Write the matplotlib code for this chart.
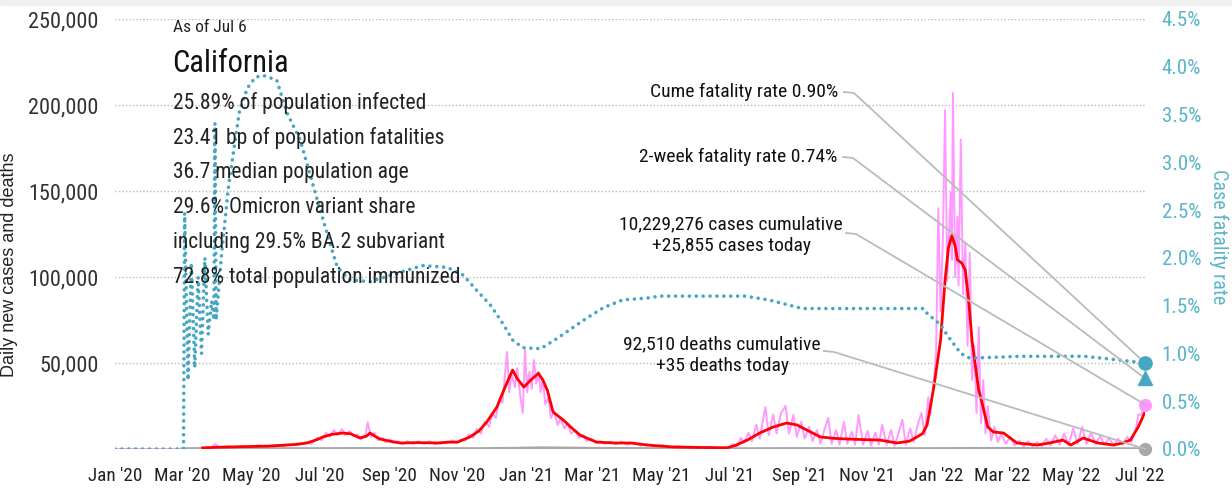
import os
import matplotlib
matplotlib.use("Agg")
import matplotlib.pyplot as plt
import matplotlib.dates as mdates
import matplotlib.ticker as mticker
from matplotlib import font_manager
from matplotlib.font_manager import FontProperties
from matplotlib.lines import Line2D
from matplotlib.patches import Rectangle
import pandas as pd

# ---- data, days counted from 2020-01-01 ----
start = pd.Timestamp("2020-01-01")

red_day = [78, 90, 110, 138, 160, 171, 180, 185, 193, 203, 210, 218, 224, 227, 232, 236,
           245, 254, 270, 289, 296, 305, 316, 324, 331, 340, 346, 352, 354, 358, 364, 370,
           377, 381, 385, 390, 399, 407, 414, 422, 429, 445, 459, 474, 497, 520, 545, 552,
           563, 574, 586, 598, 607, 616, 628, 640, 652, 665, 681, 696, 707, 714, 719, 723,
           729, 735, 739, 742, 745, 748, 750, 754, 757, 760, 763, 769, 772, 777, 782, 791,
           803, 821, 832, 844, 851, 862, 875, 889, 897, 904, 911, 917]
red_val = [600, 1000, 1300, 1700, 2600, 3500, 5500, 7000, 8500, 9300, 8800, 6400, 7500, 9300, 7200, 5800,
           4500, 3500, 3700, 3500, 4000, 4000, 7000, 10500, 15700, 24400, 34000, 43000, 45900, 41000, 36000, 40000,
           44000, 40000, 34000, 21500, 16900, 12000, 8100, 5800, 4000, 3500, 3500, 2300, 1200, 900, 700, 2000,
           5200, 9300, 12800, 15100, 14000, 11000, 7000, 6200, 5800, 5500, 5200, 3500, 4500, 7000, 9000, 14000,
           36000, 63400, 98000, 117000, 124000, 118000, 110000, 108000, 104000, 86600, 63000, 34000, 26700, 12800, 9900, 9300,
           3500, 2300, 3500, 5200, 2300, 6400, 3500, 2300, 3500, 5200, 12800, 21500]

pink_day = [0, 61, 66, 72, 78, 82, 86, 89, 93, 100, 107, 114, 121, 128, 135, 142, 149, 156, 163,
            170, 175, 180, 184, 188, 191, 195, 198, 202, 205, 209, 212, 216, 219, 223, 225, 228,
            231, 234, 238, 241, 245, 248, 252, 256, 260, 265, 270, 275, 280, 285, 290, 295, 300,
            304, 308, 312, 315, 319, 322, 326, 329, 333, 336, 339, 342, 345, 349, 351, 353, 356,
            358, 361, 363, 365, 367, 369, 371, 373, 375, 377, 379, 381, 383, 386, 388, 391, 394,
            397, 400, 403, 406, 410, 413, 417, 420, 424, 428, 432, 436, 441, 446, 451, 456, 462,
            468, 474, 480, 487, 494, 501, 508, 515, 522, 529, 536, 543, 547, 550, 554, 557, 560,
            564, 567, 571, 574, 579, 582, 586, 589, 593, 597, 600, 604, 607, 611, 614, 618, 621,
            625, 628, 632, 635, 638, 642, 645, 649, 652, 656, 659, 662, 666, 670, 673, 677, 680,
            683, 687, 691, 694, 697, 701, 704, 708, 711, 715, 718, 721, 724, 726, 729, 731, 733,
            735, 737, 739, 741, 744, 745, 746, 748, 750, 751, 753, 755, 757, 759, 761, 763, 765,
            767, 769, 771, 773, 775, 777, 780, 783, 786, 789, 793, 797, 801, 805, 809, 813, 817,
            821, 825, 829, 833, 837, 841, 845, 849, 853, 857, 861, 865, 869, 873, 877, 881, 885,
            889, 893, 897, 901, 905, 909, 911, 914, 917]
pink_val = [0, 0, 200, 500, 800, 1200, 900, 2900, 900, 1600, 1000, 1800, 1100, 2200, 1300, 2400, 1500, 2900, 2200,
            4000, 3000, 6500, 5000, 9500, 7000, 11000, 8000, 11500, 8000, 10500, 7500, 8500, 5500, 8000, 15500, 7000,
            9500, 5000, 6500, 4000, 5500, 3500, 4500, 2800, 4500, 3000, 4500, 3000, 4500, 2800, 4200, 3200, 5000,
            3500, 5500, 5000, 8500, 6500, 11500, 9000, 16000, 13000, 21000, 18000, 29000, 27000, 56400, 33000, 44000, 36000,
            47000, 30000, 21000, 57500, 33000, 45000, 35000, 51700, 38000, 45000, 33000, 41000, 26000, 30000, 18000, 22000, 14000,
            18000, 12000, 15000, 9000, 11000, 6500, 8000, 4500, 6000, 3500, 4500, 3000, 4200, 2800, 4200, 2500, 3800,
            2000, 2800, 1500, 2200, 1000, 1600, 800, 1300, 600, 1200, 500, 1000, 300, 3000, 1200, 6500, 3500,
            9500, 4500, 14000, 6000, 24400, 8000, 20000, 9000, 21000, 25000, 9000, 19800, 7000, 16000, 6000, 13000, 4500,
            11000, 3000, 12000, 18000, 3000, 11000, 2500, 15700, 3000, 10000, 2500, 19800, 2500, 10500, 2000, 9500, 2500,
            14000, 2500, 11000, 1800, 8000, 17000, 2500, 12000, 4000, 15000, 21000, 8000, 30000, 20000, 40000, 56000, 140000,
            80000, 120000, 197000, 98000, 149000, 110000, 207000, 100000, 135000, 95000, 180000, 90000, 120000, 60000, 114000, 40000, 60000,
            21000, 71000, 15000, 40000, 9000, 25000, 5000, 12800, 4000, 9000, 3000, 7000, 2000, 5000, 1500, 4500, 1500,
            4000, 1500, 6000, 2000, 8000, 2500, 9000, 2500, 12000, 3000, 12800, 3000, 9300, 3000, 7500, 2500, 6500,
            2000, 6000, 2500, 7000, 4000, 12000, 20000, 20000, 25855]

death_day = [60, 90, 120, 180, 210, 240, 300, 330, 360, 380, 400, 430, 500, 560, 600, 650, 700, 730, 760, 790, 820, 880, 917]
death_val = [0, 50, 80, 70, 140, 130, 50, 80, 300, 550, 400, 200, 50, 20, 100, 100, 60, 80, 150, 200, 80, 20, 35]

cfr_day = [0, 61, 62, 65, 68, 71, 74, 77, 80, 83, 86, 88, 89, 90, 95, 101, 107, 111,
           118, 125, 132, 144, 153, 165, 180, 194, 198, 209, 227, 251, 274, 296, 310, 322, 334, 346,
           354, 363, 379, 394, 405, 420, 435, 452, 474, 485, 561, 582, 612, 720, 723, 735, 741, 753,
           761, 805, 863, 895, 917]
cfr_pct = [0, 0, 2.47, 0.72, 1.95, 0.85, 1.8, 1.0, 2.0, 1.2, 1.55, 1.35, 3.41, 1.35, 2.05, 2.74, 3.23, 3.55,
           3.78, 3.89, 3.91, 3.86, 3.52, 3.23, 2.61, 2.05, 1.9, 1.77, 1.75, 1.84, 1.92, 1.90, 1.82, 1.66, 1.51, 1.30,
           1.14, 1.06, 1.05, 1.16, 1.25, 1.37, 1.48, 1.56, 1.58, 1.60, 1.60, 1.56, 1.47, 1.47, 1.42, 1.30, 1.19, 1.00,
           0.95, 0.97, 0.97, 0.93, 0.90]

last_day = 917
cume_cfr = 0.90
twoweek_cfr = 0.74
cases_today = 25855
deaths_today = 35

stats = ["25.89% of population infected",
         "23.41 bp of population fatalities",
         "36.7 median population age",
         "29.6% Omicron variant share",
         "including 29.5% BA.2 subvariant",
         "72.8% total population immunized"]

# ---- fonts: look for a condensed / narrow regular face ----
bad = ("bold", "italic", "light", "medium", "black", "thin", "semi", "extra", "ultra", "oblique", "heavy")
cond_file = None
for pref in ("robotocondensed", "liberationsansnarrow", "notosans", "opensans", "dejavusanscondensed", ""):
    for f in font_manager.fontManager.ttflist:
        fn = os.path.basename(f.fname).lower().replace("-", "").replace("_", "")
        if ("condensed" in fn or "narrow" in fn) and fn.startswith(pref) \
                and not any(b in fn for b in bad) and f.style == "normal":
            cond_file = f.fname
            break
    if cond_file:
        break

if cond_file:
    def fp(size):
        return FontProperties(fname=cond_file, size=size)
else:
    def fp(size):
        return FontProperties(family="Liberation Sans", size=size * 0.85)

TEAL = "#45A7C1"
PINK = "#FF99FF"
GRAY = "#A8A8A8"


def to_dates(days):
    return start + pd.to_timedelta(days, unit="D")


W, H = 1232, 488
fig = plt.figure(figsize=(W / 100, H / 100), dpi=100)
fig.patches.append(Rectangle((0, 1 - 5 / H), 1, 5 / H, transform=fig.transFigure,
                             color="#F0F0F0", zorder=0))

ax = fig.add_axes([115 / W, 39 / H, 1030 / W, 430 / H])
ax2 = ax.twinx()

ax.plot(to_dates(pink_day), pink_val, color=PINK, lw=1.4, zorder=2)
ax.plot(to_dates(death_day), death_val, color=GRAY, lw=2.5, zorder=3)
ax.plot(to_dates(red_day), red_val, color="#FF0000", lw=2.0, zorder=4)

ax2.plot(to_dates(cfr_day), cfr_pct, color=TEAL, lw=2.6,
         linestyle=(0, (0.01, 1.9)), dash_capstyle="round", zorder=3)

end = to_dates([last_day])[0]
ax.set_xlim(start, end)
ax.set_ylim(0, 250000)
ax2.set_ylim(0, 4.5)

ax.plot([end], [cases_today], "o", color=PINK, ms=8.5, clip_on=False, zorder=6)
ax.plot([end], [deaths_today], "o", color=GRAY, ms=8.5, clip_on=False, zorder=6)
ax2.plot([end], [cume_cfr], "o", color=TEAL, ms=9.5, clip_on=False, zorder=6)
ax2.plot([end], [twoweek_cfr], "^", color=TEAL, ms=10, clip_on=False, zorder=6)

for a in (ax, ax2):
    for s in a.spines.values():
        s.set_visible(False)
    a.tick_params(length=0)

ax.set_yticks([50000, 100000, 150000, 200000, 250000])
ax.yaxis.set_major_formatter(mticker.FuncFormatter(lambda v, p: f"{int(v):,}"))
ax.yaxis.grid(True, linestyle=(0, (1, 1.5)), color="#BBBBBB", lw=1)
ax.set_axisbelow(True)
ax.tick_params(axis="y", pad=12, labelcolor="#333333")

ax2.set_yticks([i * 0.5 for i in range(10)])
ax2.yaxis.set_major_formatter(mticker.FuncFormatter(lambda v, p: f"{v:.1f}%"))
ax2.tick_params(axis="y", pad=12, labelcolor="#5BB5CA")

xt = pd.date_range("2020-01-01", "2022-07-01", freq="2MS")
ax.set_xticks(xt)
ax.set_xticklabels([d.strftime("%b '%y") for d in xt])
ax.tick_params(axis="x", pad=13, labelcolor="#222222")

for lab in ax.get_yticklabels():
    lab.set_fontproperties(fp(16))
for lab in ax2.get_yticklabels():
    lab.set_fontproperties(fp(15))
for lab in ax.get_xticklabels():
    lab.set_fontproperties(fp(13.8))

ax.set_ylabel("Daily new cases and deaths", fontsize=13, family=["Liberation Sans", "DejaVu Sans"],
              color="#222222")
ax.yaxis.set_label_coords((18 - 115) / 1030, 0.428)
ax2.set_ylabel("Case fatality rate", fontproperties=fp(14.5), color="#5BB5CA",
               rotation=270, va="center")
ax2.yaxis.set_label_coords((1219 - 115) / 1030, 0.495)


def ftext(x, y, s, size, **kw):
    fig.text(x / W, 1 - y / H, s, fontproperties=fp(size), va="center", **kw)


ftext(173, 27, "As of Jul 6", 12.5, color="#222222")
ftext(172, 64, "California", 22, color="#111111")
for i, s in enumerate(stats):
    ftext(173, 103 + i * 34.8, s, 15.5, color="#222222")

# ---- annotations with leader lines ----
fig.canvas.draw()


def px(a, xv, yv):
    x, y = a.transData.transform((mdates.date2num(xv), yv))
    return x, H - y


notes = [
    ("Cume fatality rate 0.90%", 838, 92, "right", (844, 92), px(ax2, end, cume_cfr)),
    ("2-week fatality rate 0.74%", 837, 157, "right", (843, 157), px(ax2, end, twoweek_cfr)),
    ("10,229,276 cases cumulative\n+25,855 cases today", 731, 235, "center", (846, 233), px(ax, end, cases_today)),
    ("92,510 deaths cumulative\n+35 deaths today", 722, 355, "center", (824, 351), px(ax, end, deaths_today)),
]
for txt, tx, ty, ha, (sx, sy), (ex, ey) in notes:
    ftext(tx, ty, txt, 14, color="#111111", ha=ha, multialignment="center", linespacing=1.3)
    xs = [sx, sx + 10, ex]
    ys = [sy, sy + 1, ey]
    ax2.add_artist(Line2D([v / W for v in xs], [1 - v / H for v in ys], transform=fig.transFigure,
                          color="#BBBBBB", lw=1.3, clip_on=False, zorder=5))

fig.savefig("out.png", dpi=100)
